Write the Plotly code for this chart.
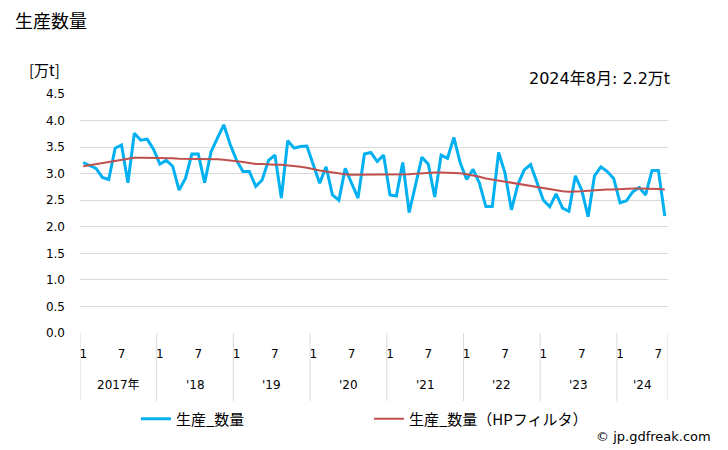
import plotly.graph_objects as go

# Monthly data Jan 2017 .. Aug 2024 (92 months)
production = [
    3.21, 3.16, 3.10, 2.93, 2.89, 3.48, 3.54, 2.83, 3.76, 3.63, 3.65, 3.46,
    3.18, 3.25, 3.14, 2.69, 2.91, 3.37, 3.37, 2.83, 3.41, 3.67, 3.92, 3.55,
    3.25, 3.04, 3.04, 2.76, 2.88, 3.25, 3.35, 2.54, 3.62, 3.48, 3.51, 3.52,
    3.16, 2.82, 3.13, 2.60, 2.50, 3.10, 2.82, 2.54, 3.37, 3.40, 3.23, 3.35,
    2.60, 2.58, 3.21, 2.27, 2.79, 3.31, 3.18, 2.56, 3.35, 3.29, 3.68, 3.20,
    2.89, 3.08, 2.82, 2.38, 2.38, 3.40, 3.01, 2.32, 2.79, 3.07, 3.17, 2.85,
    2.50, 2.38, 2.62, 2.35, 2.29, 2.96, 2.69, 2.19, 2.96, 3.13, 3.04, 2.91,
    2.45, 2.49, 2.66, 2.74, 2.60, 3.06, 3.06, 2.20,
]
hp_trend = [
    3.14, 3.16, 3.18, 3.20, 3.22, 3.24, 3.26, 3.28, 3.30, 3.30, 3.30, 3.30,
    3.30, 3.29, 3.29, 3.28, 3.28, 3.27, 3.27, 3.27, 3.27, 3.27, 3.26, 3.25,
    3.24, 3.22, 3.20, 3.18, 3.18, 3.17, 3.17, 3.17, 3.16, 3.15, 3.13, 3.11,
    3.08, 3.06, 3.04, 3.02, 3.00, 2.99, 2.98, 2.98, 2.98, 2.98, 2.98, 2.98,
    2.98, 2.98, 2.98, 2.99, 3.00, 3.01, 3.02, 3.02, 3.02, 3.02, 3.02, 3.01,
    2.99, 2.97, 2.94, 2.91, 2.89, 2.87, 2.85, 2.83, 2.81, 2.79, 2.76, 2.74,
    2.72, 2.70, 2.68, 2.67, 2.66, 2.66, 2.67, 2.68, 2.69, 2.70, 2.70, 2.70,
    2.71, 2.71, 2.72, 2.72, 2.72, 2.72, 2.71, 2.70,
]
years = [2017, 2018, 2019, 2020, 2021, 2022, 2023, 2024]
year_labels = ["2017年", "'18", "'19", "'20", "'21", "'22", "'23", "'24"]
month_tick_labels = ["1", "7"]
y_ticks = [0.0, 0.5, 1.0, 1.5, 2.0, 2.5, 3.0, 3.5, 4.0, 4.5]

n = len(production)
x = list(range(n))

JP = "Noto Sans CJK JP"
NUM = "DejaVu Sans"
MIX = "DejaVu Sans, Noto Sans CJK JP"

L, R, T, B = 80, 668.5, 94, 333
plot_w = R - L
plot_h = B - T

fig = go.Figure()
fig.add_trace(go.Scatter(
    x=x, y=production, mode="lines", name="生産_数量",
    line=dict(color="#00b0f0", width=3),
))
fig.add_trace(go.Scatter(
    x=x, y=hp_trend, mode="lines", name="生産_数量（HPフィルタ）",
    line=dict(color="#c0504d", width=2),
))

tickvals, ticktext = [], []
for i in range(n):
    m = i % 12
    if m == 0:
        tickvals.append(i); ticktext.append(month_tick_labels[0])
    elif m == 6:
        tickvals.append(i); ticktext.append(month_tick_labels[1])

sep_bottom = -(401 - B) / plot_h
shapes = []
for k, yr in enumerate(years):
    start = k * 12 - 0.5
    end = min(start + 12, n - 0.5)
    shapes.append(dict(type="line", xref="x", yref="paper", x0=start, x1=start,
                       y0=0, y1=sep_bottom, line=dict(color="#d9d9d9", width=1)))
    fig.add_annotation(x=(start + end) / 2, xref="x", y=-(385 - B) / plot_h,
                       yref="paper", text=year_labels[k], showarrow=False,
                       font=dict(family=MIX, size=12, color="#000"),
                       xanchor="center", yanchor="middle")
shapes.append(dict(type="line", xref="x", yref="paper", x0=n - 0.5, x1=n - 0.5,
                   y0=0, y1=sep_bottom, line=dict(color="#d9d9d9", width=1)))


def px_annot(text, px, py, anchor, size, family=JP):
    fig.add_annotation(x=(px - L) / plot_w, y=(B - py) / plot_h,
                       xref="paper", yref="paper", text=text, showarrow=False,
                       xanchor=anchor, yanchor="middle",
                       font=dict(family=family, size=size, color="#000"))


px_annot("生産数量", 13, 20, "left", 18)
px_annot("[万t]", 27, 70, "left", 15)
px_annot("2024年8月: 2.2万t", 673, 78, "right", 16, MIX)
px_annot("© jp.gdfreak.com", 714, 436, "right", 13, NUM)

fig.update_layout(
    width=728, height=450,
    margin=dict(l=L, r=728 - R, t=T, b=450 - B),
    paper_bgcolor="white", plot_bgcolor="white",
    shapes=shapes,
    showlegend=True,
    legend=dict(orientation="h", x=(136 - L) / plot_w, xanchor="left",
                y=(B - 419) / plot_h, yanchor="middle",
                font=dict(family=JP, size=15, color="#000"),
                entrywidth=188, entrywidthmode="pixels",
                itemwidth=30, bgcolor="rgba(0,0,0,0)"),
    xaxis=dict(range=[-0.5, n - 0.5], tickvals=tickvals, ticktext=ticktext,
               showgrid=False, zeroline=False, showline=False, ticks="",
               ticklabelstandoff=12,
               tickfont=dict(family=NUM, size=12, color="#000")),
    yaxis=dict(range=[0, 4.5], tickvals=y_ticks,
               ticktext=[f"{v:.1f}" for v in y_ticks],
               showgrid=True, gridcolor="#d9d9d9", gridwidth=1,
               zeroline=False, showline=False, ticks="",
               ticklabelstandoff=14,
               tickfont=dict(family=NUM, size=12, color="#000")),
)

fig.write_html("out.html",
               config={"displayModeBar": False},
               post_script="document.body.style.margin='0';document.body.style.overflow='hidden';")
